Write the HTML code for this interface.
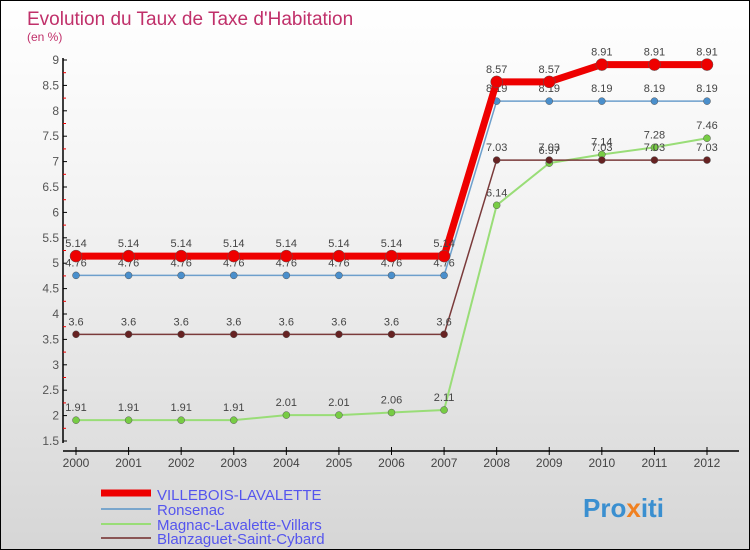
<!DOCTYPE html>
<html><head><meta charset="utf-8"><style>
body{margin:0}
#c{width:750px;height:550px;position:relative;background:linear-gradient(#ffffff,#f2f2f2 40%,#d6d6d6);font-family:"Liberation Sans",sans-serif;border:1px solid #000;box-sizing:border-box;overflow:hidden}
</style></head><body>
<div id="c">
<svg id="s" width="750" height="550" style="position:absolute;left:0;top:0">
<text x="26" y="24" font-size="19" fill="#c0306a">Evolution du Taux de Taxe d'Habitation</text>
<text x="26" y="40" font-size="12" fill="#c0306a">(en %)</text>
<g id="ax"></g><g id="ser"></g>
<g>
<line x1="100" y1="492" x2="150" y2="492" stroke="#e00" stroke-width="7"/>
<text x="156" y="499" font-size="15" fill="#5555ee">VILLEBOIS-LAVALETTE</text>
<line x1="100" y1="508" x2="150" y2="508" stroke="#7aa6cc" stroke-width="2"/>
<text x="156" y="514" font-size="15" fill="#5555ee">Ronsenac</text>
<line x1="100" y1="523" x2="150" y2="523" stroke="#99dd77" stroke-width="2"/>
<text x="156" y="529" font-size="15" fill="#5555ee">Magnac-Lavalette-Villars</text>
<line x1="100" y1="537" x2="150" y2="537" stroke="#8a5555" stroke-width="2"/>
<text x="156" y="543" font-size="15" fill="#5555ee">Blanzaguet-Saint-Cybard</text>
</g>
<text x="582" y="516" font-size="26" font-weight="bold" fill="#3a8fd0">Pro<tspan fill="#f08020">x</tspan>iti</text>
</svg></div>
<script>
const years=[2000,2001,2002,2003,2004,2005,2006,2007,2008,2009,2010,2011,2012];
const villebois=[5.14,5.14,5.14,5.14,5.14,5.14,5.14,5.14,8.57,8.57,8.91,8.91,8.91];
const ronsenac=[4.76,4.76,4.76,4.76,4.76,4.76,4.76,4.76,8.19,8.19,8.19,8.19,8.19];
const magnac=[1.91,1.91,1.91,1.91,2.01,2.01,2.06,2.11,6.14,6.97,7.14,7.28,7.46];
const blanz=[3.6,3.6,3.6,3.6,3.6,3.6,3.6,3.6,7.03,7.03,7.03,7.03,7.03];
const yTicks=[1.5,2,2.5,3,3.5,4,4.5,5,5.5,6,6.5,7,7.5,8,8.5,9];
const NS="http://www.w3.org/2000/svg";
const X=i=>75+i*(706-75)/(years.length-1);
const Y=v=>59+(9-v)*50.8;
function mk(t,a,p){const e=document.createElementNS(NS,t);for(const k in a)e.setAttribute(k,a[k]);p.appendChild(e);return e;}
const ax=document.getElementById('ax'),ser=document.getElementById('ser');
let e=mk('line',{x1:62,y1:57,x2:62,y2:442,stroke:'#000','stroke-width':1.5},ax);


e=mk('line',{x1:62,y1:450,x2:738,y2:450,stroke:'#000','stroke-width':1.5},ax);


yTicks.forEach((v,k)=>{
 mk('line',{x1:62,y1:Y(v),x2:66,y2:Y(v),stroke:'#000'},ax);
 if(k<yTicks.length-1) mk('line',{x1:62,y1:Y(v)-12.7,x2:65,y2:Y(v)-12.7,stroke:'#e00'},ax);
 const t=mk('text',{x:58,y:Y(v)+4,'font-size':12,fill:'#555','text-anchor':'end'},ax);t.textContent=v;
 
 
});
years.forEach((y,i)=>{
 mk('line',{x1:X(i),y1:446,x2:X(i),y2:454,stroke:'#000'},ax);
 const t=mk('text',{x:X(i),y:466,'font-size':12,fill:'#444','text-anchor':'middle'},ax);t.textContent=y;
 
 
});
function series(d,col,w,r,fill,name){
 const p=mk('polyline',{points:d.map((v,i)=>X(i)+','+Y(v)).join(' '),fill:'none',stroke:col,'stroke-width':w,'stroke-linejoin':'round'},ser);
 
 
 d.forEach((v,i)=>{
  const c=mk('circle',{cx:X(i),cy:Y(v),r:r,fill:fill,stroke:'#555','stroke-width':0.5},ser);
  
  
  const t=mk('text',{x:X(i),y:Y(v)-9,'font-size':11,fill:'#444','text-anchor':'middle'},ser);t.textContent=v;
  
  
 });
}
series(magnac,'#99dd77',2,3.5,'#77cc44','magnac');
series(blanz,'#7a3a3a',1.5,3.5,'#662222','blanzaguet');
series(ronsenac,'#6d9fcc',1.5,3.5,'#4a8fcc','ronsenac');
series(villebois,'#ee0000',7,6,'#ee0000','villebois');
</script>
</body></html>
